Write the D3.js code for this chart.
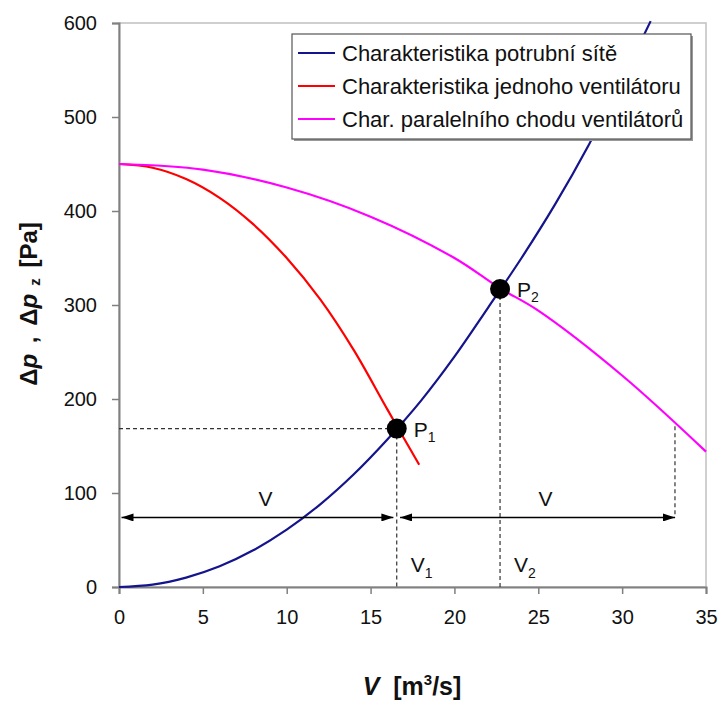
<!DOCTYPE html>
<html>
<head>
<meta charset="utf-8">
<script src="https://cdn.jsdelivr.net/npm/d3@7"></script>
<style>
  body { margin: 0; background: #fff; }
  svg { display: block; font-family: "Liberation Sans", Arial, sans-serif; }
</style>
</head>
<body>
<div id="chart"></div>
<script>
// values
const systemV  = [0, 2, 4, 6, 8, 10, 12, 14, 16, 18, 20, 22, 24, 26, 28, 30, 31.7];
const systemDp = [0, 2.5, 10, 22, 39, 61, 88, 120, 157, 198, 245, 297, 350, 407, 470, 540, 602];
const fanV  = [0, 2, 4, 6, 8, 10, 12, 14, 16, 17.9];
const fanDp = [450, 446, 434, 414, 386, 350, 306, 252, 189, 130];
const parV  = [0, 5, 10, 15, 20, 22.7, 25, 30, 35];
const parDp = [450, 444, 425, 394, 350, 318, 294, 225, 144];
const pointNames = ['1', '2'];
const pointV  = [16.56, 22.72];
const pointDp = [168.5, 317];
const parEndV = 33.15;
const parEndDp = 171;
const arrowDp = 74;
const seriesNames = ['Charakteristika potrubní sítě', 'Charakteristika jednoho ventilátoru', 'Char. paralelního chodu ventilátorů'];
const seriesColors = ['#14148c', '#ff0000', '#ff00ff'];
const xTicks = [0, 5, 10, 15, 20, 25, 30, 35];
const yTicks = [0, 100, 200, 300, 400, 500, 600];

const W = 720, H = 701;
const svg = d3.select('#chart').append('svg').attr('width', W).attr('height', H);
svg.append('rect').attr('width', W).attr('height', H).attr('fill', '#fff');

const x = d3.scaleLinear().domain([0, 35]).range([119, 706]);
const y = d3.scaleLinear().domain([0, 600]).range([587, 23]);

// plot frame
svg.append('rect')
  .attr('x', x(0)).attr('y', y(600))
  .attr('width', x(35) - x(0)).attr('height', y(0) - y(600))
  .attr('fill', 'none').attr('stroke', '#c0c0c0').attr('stroke-width', 1.5);

// axes
const xAxis = svg.append('g').attr('transform', `translate(0,${y(0)})`)
  .call(d3.axisBottom(x).tickValues(xTicks).tickSize(7).tickPadding(16));
const yAxis = svg.append('g').attr('transform', `translate(${x(0)},0)`)
  .call(d3.axisLeft(y).tickValues(yTicks).tickSize(7).tickPadding(15));
[xAxis, yAxis].forEach(a => {
  a.select('.domain').attr('stroke', '#808080').attr('stroke-width', 2);
  a.selectAll('.tick line').attr('stroke', '#808080').attr('stroke-width', 1.5);
  a.selectAll('.tick text').attr('fill', '#111').style('font-size', '20px')
    .style('font-family', '"Liberation Sans", Arial, sans-serif');
});

// dashed helper lines
const dash = svg.append('g').attr('stroke', '#333').attr('stroke-width', 1.2)
  .attr('stroke-dasharray', '4,3').attr('fill', 'none');
dash.append('line').attr('x1', x(0)).attr('x2', x(pointV[0])).attr('y1', y(pointDp[0])).attr('y2', y(pointDp[0]));
pointV.forEach((v, i) => {
  dash.append('line').attr('x1', x(v)).attr('x2', x(v)).attr('y1', y(pointDp[i])).attr('y2', y(0));
});
dash.append('line').attr('x1', x(parEndV)).attr('x2', x(parEndV)).attr('y1', y(parEndDp)).attr('y2', y(arrowDp));

// curves
const line = d3.line().x(d => x(d[0])).y(d => y(d[1])).curve(d3.curveCatmullRom);
const series = [
  d3.zip(systemV, systemDp),
  d3.zip(fanV, fanDp),
  d3.zip(parV, parDp)
];
series.forEach((s, i) => {
  svg.append('path').datum(s)
    .attr('fill', 'none').attr('stroke', seriesColors[i]).attr('stroke-width', 2.2)
    .attr('d', line);
});

// flow arrows
const defs = svg.append('defs');
defs.append('marker').attr('id', 'head').attr('viewBox', '0 0 12 8')
  .attr('refX', 12).attr('refY', 4).attr('markerWidth', 12).attr('markerHeight', 8)
  .attr('markerUnits', 'userSpaceOnUse').attr('orient', 'auto-start-reverse')
  .append('path').attr('d', 'M0,0 L12,4 L0,8 Z').attr('fill', '#000');
const arrows = [[0.15, pointV[0] - 0.2], [pointV[0] + 0.2, parEndV]];
arrows.forEach(a => {
  svg.append('line')
    .attr('x1', x(a[0])).attr('x2', x(a[1])).attr('y1', y(arrowDp)).attr('y2', y(arrowDp))
    .attr('stroke', '#000').attr('stroke-width', 1.5)
    .attr('marker-start', 'url(#head)').attr('marker-end', 'url(#head)');
  svg.append('text').attr('x', x((a[0] + a[1]) / 2) + 8).attr('y', y(arrowDp) - 11)
    .attr('text-anchor', 'middle').style('font-size', '21px').attr('fill', '#111').text('V');
});

// V1, V2 labels
pointV.forEach((v, i) => {
  const t = svg.append('text').attr('x', x(v) + 14).attr('y', 572)
    .style('font-size', '21px').attr('fill', '#111');
  t.append('tspan').text('V');
  t.append('tspan').attr('dy', 6).style('font-size', '14px').text(pointNames[i]);
});

// operating points
pointV.forEach((v, i) => {
  svg.append('circle').attr('cx', x(v)).attr('cy', y(pointDp[i])).attr('r', 10).attr('fill', '#000');
  const t = svg.append('text').attr('x', x(v) + 17).attr('y', y(pointDp[i]) + 8)
    .style('font-size', '21px').attr('fill', '#111');
  t.append('tspan').text('P');
  t.append('tspan').attr('dy', 5).style('font-size', '14px').text(pointNames[i]);
});

// legend
const lg = svg.append('g');
lg.append('rect').attr('x', 294).attr('y', 36).attr('width', 399).attr('height', 105).attr('fill', '#999');
lg.append('rect').attr('x', 292).attr('y', 34).attr('width', 399).attr('height', 105)
  .attr('fill', '#fff').attr('stroke', '#555').attr('stroke-width', 1.2);
seriesNames.forEach((name, i) => {
  const ly = 53 + i * 33;
  lg.append('line').attr('x1', 298).attr('x2', 335).attr('y1', ly).attr('y2', ly)
    .attr('stroke', seriesColors[i]).attr('stroke-width', 2.2);
  lg.append('text').attr('x', 342).attr('y', ly + 8).style('font-size', '22px').attr('fill', '#111').text(name);
});

// axis titles
const yt = svg.append('text').attr('transform', 'translate(37,304) rotate(-90)')
  .attr('text-anchor', 'middle').style('font-size', '24px').style('font-weight', 'bold')
  .style('word-spacing', '4px').attr('fill', '#111');
yt.append('tspan').text('Δ');
yt.append('tspan').style('font-style', 'italic').text('p');
yt.append('tspan').text(' , Δ');
yt.append('tspan').style('font-style', 'italic').text('p');
yt.append('tspan').attr('dy', 3).style('font-size', '15px').text(' z');
yt.append('tspan').attr('dy', -3).text(' [Pa]');

const xt = svg.append('text').attr('x', 412).attr('y', 695)
  .attr('text-anchor', 'middle').style('font-size', '25px').style('font-weight', 'bold').attr('fill', '#111');
xt.append('tspan').style('font-style', 'italic').text('V');
xt.append('tspan').attr('xml:space', 'preserve').text('\u00a0\u00a0[m');
xt.append('tspan').attr('dy', -10).style('font-size', '15px').text('3');
xt.append('tspan').attr('dy', 10).text('/s]');
</script>
</body>
</html>
